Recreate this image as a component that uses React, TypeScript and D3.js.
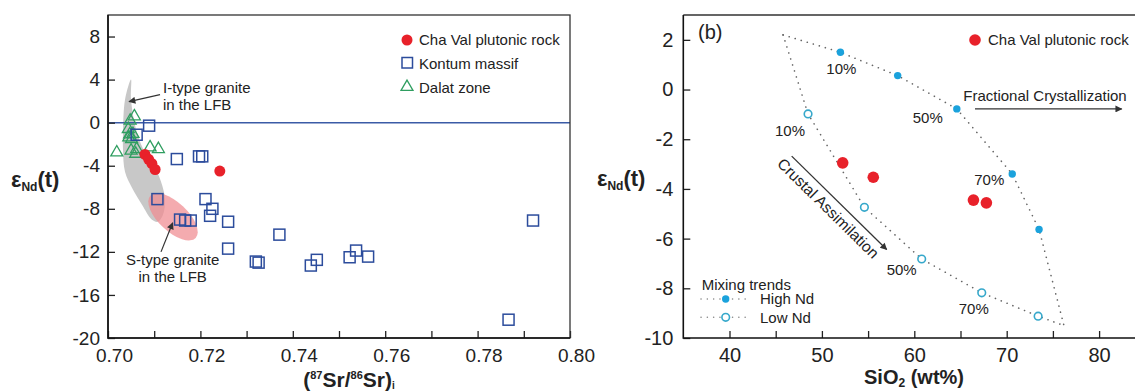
import * as d3 from 'd3';
import { useEffect, useRef } from 'react';

const FONT = 'Liberation Sans, Arial, Helvetica, sans-serif';
const RED = '#e8212a';
const SQUARE_BLUE = '#2c4c9c';
const TRI_GREEN = '#2f9e60';
const HIGH_ND = '#1ba2dc';
const LOW_ND = '#36a8cb';
const INK = '#222';

// ---- panel (a): eNd(t) vs (87Sr/86Sr)i ----
const chaValSr = [0.7080, 0.7088, 0.7095, 0.7102, 0.7242];
const chaValNd = [-2.95, -3.4, -3.8, -4.35, -4.5];

const kontumSr = [0.7089, 0.7062, 0.7149, 0.7197, 0.7204, 0.7107, 0.7156, 0.7167, 0.7179, 0.7211, 0.7226, 0.7221,
    0.7260, 0.7260, 0.7371, 0.7320, 0.7326, 0.7439, 0.7452, 0.7523, 0.7537, 0.7563, 0.7867, 0.7920];
const kontumNd = [-0.28, -1.12, -3.38, -3.13, -3.13, -7.1, -9.0, -9.09, -9.09, -7.1, -8.0, -8.65,
    -9.2, -11.7, -10.4, -12.9, -13.0, -13.27, -12.74, -12.5, -11.88, -12.44, -18.3, -9.09];

const dalatSr = [0.7048, 0.7057, 0.7044, 0.7054, 0.7045, 0.7051, 0.7019, 0.7050, 0.7062, 0.7060, 0.7091, 0.7109, 0.7047];
const dalatNd = [0.28, 0.68, -0.5, -0.95, -1.27, -1.43, -2.67, -2.5, -2.36, -2.8, -2.2, -2.36, -1.0];

// outline of the I-type granite field (LFB)
const iTypeSr = [0.70498, 0.70498, 0.70628, 0.70823, 0.71039, 0.71169, 0.71234, 0.71190, 0.71082,
    0.70952, 0.70736, 0.70519, 0.70368, 0.70325, 0.70325, 0.70368, 0.70390];
const iTypeNd = [4.0, 2.14, -0.93, -2.98, -4.37, -5.77, -7.16, -8.56, -9.21,
    -9.02, -7.63, -6.05, -4.56, -2.51, -0.93, 2.14, 4.0];
// S-type granite field centre
const sTypeCenter = [0.71407, -8.74];

const xTicksA = d3.range(70, 81).map((v) => v / 100);
const yTicksA = [-20, -16, -12, -8, -4, 0, 4, 8];
const legendA = ['Cha Val plutonic rock', 'Kontum massif', 'Dalat zone'];

// ---- panel (b): eNd(t) vs SiO2 ----
const chaValSiO2 = [52.25, 55.56, 66.4, 67.8];
const chaValNdB = [-2.95, -3.53, -4.45, -4.56];

const highNdSiO2 = [52.0, 58.2, 64.6, 70.6, 73.5];
const highNdEps = [1.5, 0.56, -0.78, -3.4, -5.63];
const lowNdSiO2 = [48.5, 54.6, 60.8, 67.3, 73.4];
const lowNdEps = [-0.98, -4.74, -6.82, -8.18, -9.12];
const mixStart = [45.8, 2.2];
const mixEnd = [76.2, -9.5];
const pctLabels = ['10%', '50%', '70%'];
const pctIndex = [0, 2, 3];

const xTicksB = d3.range(40, 81, 5);
const yTicksB = [-10, -8, -6, -4, -2, 0, 2];

export default function App() {
    const ref = useRef<any>(null);

    useEffect(() => {
        const svg = d3.select(ref.current);
        svg.selectAll('*').remove();

        const defs = svg.append('defs');
        defs.append('marker')
            .attr('id', 'arrow')
            .attr('viewBox', '0 0 10 10')
            .attr('refX', 9).attr('refY', 5)
            .attr('markerWidth', 9).attr('markerHeight', 7)
            .attr('markerUnits', 'userSpaceOnUse')
            .attr('orient', 'auto')
            .append('path').attr('d', 'M0,0 L10,5 L0,10 z').attr('fill', '#333');

        const styleAxis = (g: any, size: number) => {
            g.select('.domain').remove();
            g.selectAll('line').attr('stroke', INK).attr('stroke-width', 1.3);
            g.selectAll('text').attr('font-size', size).attr('font-family', FONT).attr('fill', INK);
        };
        // plain hyphen for negatives, like the original figure
        const plain = (d: any) => String(d);

        //---------------- panel (a)
        const xA = d3.scaleLinear().domain([0.70, 0.80]).range([108, 570]);
        const yA = d3.scaleLinear().domain([-20, 10]).range([338, 15]);
        const a = svg.append('g');

        // I-type field
        const blob = d3.line<number>()
            .x((_, i) => xA(iTypeSr[i]))
            .y((_, i) => yA(iTypeNd[i]))
            .curve(d3.curveCatmullRomClosed);
        a.append('path').attr('d', blob(iTypeSr.slice(0, -1)) as string).attr('fill', '#c8c8c8');

        // S-type field
        a.append('ellipse')
            .attr('cx', 0).attr('cy', 0).attr('rx', 31).attr('ry', 14.5)
            .attr('transform', `translate(${xA(sTypeCenter[0])},${yA(sTypeCenter[1])}) rotate(43)`)
            .attr('fill', '#f08a90').attr('opacity', 0.72);

        // zero line
        a.append('line')
            .attr('x1', xA(0.70)).attr('x2', xA(0.80))
            .attr('y1', yA(0)).attr('y2', yA(0))
            .attr('stroke', '#3b5ba6').attr('stroke-width', 1.5);

        // axes
        const axA = a.append('g').attr('transform', `translate(0,${yA(-20)})`)
            .call(d3.axisBottom(xA).tickValues(xTicksA).tickSize(-7).tickPadding(11)
                .tickFormat((d: any) => (Math.round(d * 100) % 2 === 0 ? d3.format('.2f')(d) : '')));
        styleAxis(axA, 19);
        axA.selectAll('text').attr('dx', 6);
        const ayA = a.append('g').attr('transform', `translate(${xA(0.70)},0)`)
            .call(d3.axisLeft(yA).tickValues(yTicksA).tickSize(-7).tickPadding(8).tickFormat(plain));
        styleAxis(ayA, 19);

        // frame
        a.append('rect')
            .attr('x', xA(0.70)).attr('y', yA(10))
            .attr('width', xA(0.80) - xA(0.70)).attr('height', yA(-20) - yA(10))
            .attr('fill', 'none').attr('stroke', '#333').attr('stroke-width', 1.3);
        a.append('path')
            .attr('d', `M${xA(0.70)},${yA(10)} V${yA(-20)} H${xA(0.80)}`)
            .attr('fill', 'none').attr('stroke', '#111').attr('stroke-width', 1.6);

        // annotations
        const ann = a.append('g').attr('font-family', FONT).attr('font-size', 15).attr('fill', INK);
        ann.append('text').attr('x', xA(0.7119)).attr('y', yA(2.79)).text('I-type granite');
        ann.append('text').attr('x', xA(0.7119)).attr('y', yA(1.21)).text('in the LFB');
        a.append('line')
            .attr('x1', xA(0.71126)).attr('y1', yA(2.6)).attr('x2', xA(0.70455)).attr('y2', yA(1.95))
            .attr('stroke', '#333').attr('stroke-width', 1.2).attr('marker-end', 'url(#arrow)');
        ann.append('text').attr('x', xA(0.7140)).attr('y', yA(-13.21)).attr('text-anchor', 'middle').text('S-type granite');
        ann.append('text').attr('x', xA(0.7140)).attr('y', yA(-14.76)).attr('text-anchor', 'middle').text('in the LFB');
        a.append('line')
            .attr('x1', xA(0.71147)).attr('y1', yA(-12.0)).attr('x2', xA(0.7140)).attr('y2', yA(-9.3))
            .attr('stroke', '#333').attr('stroke-width', 1.2).attr('marker-end', 'url(#arrow)');

        // data
        const tri = d3.symbol().type(d3.symbolTriangle).size(62);
        a.append('g').selectAll('path').data(dalatSr).join('path')
            .attr('d', tri as any)
            .attr('transform', (d, i) => `translate(${xA(d)},${yA(dalatNd[i]) + 1})`)
            .attr('fill', 'none').attr('stroke', TRI_GREEN).attr('stroke-width', 1.3);
        a.append('g').selectAll('rect').data(kontumSr).join('rect')
            .attr('x', (d) => xA(d) - 5.5).attr('y', (d, i) => yA(kontumNd[i]) - 5.5)
            .attr('width', 11).attr('height', 11)
            .attr('fill', 'none').attr('stroke', SQUARE_BLUE).attr('stroke-width', 1.5);
        a.append('g').selectAll('circle').data(chaValSr).join('circle')
            .attr('cx', (d) => xA(d)).attr('cy', (d, i) => yA(chaValNd[i]))
            .attr('r', 5.5).attr('fill', RED);

        // legend
        const lg = a.append('g').attr('font-family', FONT).attr('font-size', 15).attr('fill', INK);
        lg.append('circle').attr('cx', 407).attr('cy', 40).attr('r', 5.5).attr('fill', RED);
        lg.append('rect').attr('x', 402).attr('y', 57.5).attr('width', 10.5).attr('height', 10.5)
            .attr('fill', 'none').attr('stroke', SQUARE_BLUE).attr('stroke-width', 1.5);
        lg.append('path').attr('d', tri as any).attr('transform', 'translate(407,87)')
            .attr('fill', 'none').attr('stroke', TRI_GREEN).attr('stroke-width', 1.3);
        legendA.forEach((t, i) => {
            lg.append('text').attr('x', 419).attr('y', 45 + i * 23.8).text(t);
        });

        // axis titles
        const ylA = svg.append('text').attr('x', 11).attr('y', 187)
            .attr('font-family', FONT).attr('font-weight', 'bold').attr('font-size', 22).attr('fill', INK);
        ylA.append('tspan').text('ε');
        ylA.append('tspan').attr('font-size', 12).attr('dy', 4).text('Nd');
        ylA.append('tspan').attr('dy', -4).text('(t)');

        const xlA = svg.append('text').attr('x', 349).attr('y', 386.5).attr('text-anchor', 'middle')
            .attr('font-family', FONT).attr('font-weight', 'bold').attr('font-size', 21).attr('fill', INK);
        xlA.append('tspan').text('(');
        xlA.append('tspan').attr('font-size', 11).attr('dy', -8).text('87');
        xlA.append('tspan').attr('dy', 8).text('Sr/');
        xlA.append('tspan').attr('font-size', 11).attr('dy', -8).text('86');
        xlA.append('tspan').attr('dy', 8).text('Sr)');
        xlA.append('tspan').attr('font-size', 10).attr('dy', 2).text('i');

        //---------------- panel (b)
        const xB = d3.scaleLinear().domain([35, 85]).range([683.3, 1145.3]);
        const yB = d3.scaleLinear().domain([-10, 3]).range([338, 15]);
        const b = svg.append('g');

        const axB = b.append('g').attr('transform', `translate(0,${yB(-10)})`)
            .call(d3.axisBottom(xB).tickValues(xTicksB).tickSize(-7).tickPadding(10)
                .tickFormat((d: any) => (d % 10 === 0 ? String(d) : '')));
        styleAxis(axB, 20);
        const ayB = b.append('g').attr('transform', `translate(${xB(35)},0)`)
            .call(d3.axisLeft(yB).tickValues(yTicksB).tickSize(-7).tickPadding(10).tickFormat(plain));
        styleAxis(ayB, 20);

        b.append('path')
            .attr('d', `M${xB(35)},${yB(3)} H${xB(85)} V${yB(-10)}`)
            .attr('fill', 'none').attr('stroke', '#333').attr('stroke-width', 1.3);
        b.append('path')
            .attr('d', `M${xB(35)},${yB(3)} V${yB(-10)} H${xB(85)}`)
            .attr('fill', 'none').attr('stroke', '#111').attr('stroke-width', 1.6);

        b.append('text').attr('x', 698).attr('y', 39)
            .attr('font-family', FONT).attr('font-size', 20).attr('fill', INK).text('(b)');

        // mixing trends
        const trend = d3.line<number[]>().x((p) => xB(p[0])).y((p) => yB(p[1]));
        const highPts = [mixStart, ...highNdSiO2.map((v, i) => [v, highNdEps[i]]), mixEnd];
        const lowPts = [mixStart, ...lowNdSiO2.map((v, i) => [v, lowNdEps[i]]), mixEnd];
        [highPts, lowPts].forEach((pts) => {
            b.append('path').attr('d', trend(pts) as string)
                .attr('fill', 'none').attr('stroke', '#666').attr('stroke-width', 1.6)
                .attr('stroke-dasharray', '0.1 6.2').attr('stroke-linecap', 'round');
        });

        // arrows + labels
        const fc = b.append('g').attr('font-family', FONT).attr('font-size', 15).attr('fill', INK);
        fc.append('text').attr('x', xB(65.3)).attr('y', yB(-0.47)).text('Fractional Crystallization');
        b.append('line')
            .attr('x1', xB(66.57)).attr('x2', xB(82.45)).attr('y1', yB(-0.78)).attr('y2', yB(-0.78))
            .attr('stroke', '#333').attr('stroke-width', 1.3).attr('marker-end', 'url(#arrow)');

        const c1 = [xB(46.73), yB(-2.68)];
        const c2 = [xB(57.01), yB(-6.44)];
        const ang = (Math.atan2(c2[1] - c1[1], c2[0] - c1[0]) * 180) / Math.PI;
        b.append('line')
            .attr('x1', c1[0]).attr('y1', c1[1]).attr('x2', c2[0]).attr('y2', c2[1])
            .attr('stroke', '#333').attr('stroke-width', 1.3).attr('marker-end', 'url(#arrow)');
        b.append('text')
            .attr('transform', `translate(${(c1[0] + c2[0]) / 2},${(c1[1] + c2[1]) / 2}) rotate(${ang})`)
            .attr('x', -4).attr('y', 17).attr('text-anchor', 'middle')
            .attr('font-family', FONT).attr('font-size', 15.5).attr('fill', INK)
            .text('Crustal Assimilation');

        // percent labels
        const hiOff = [[1, 22], [-29, 14], [-23, 11]];
        const loOff = [[-18, 22], [-20, 16], [-8, 21]];
        pctIndex.forEach((k, j) => {
            fc.append('text').attr('text-anchor', 'middle')
                .attr('x', xB(highNdSiO2[k]) + hiOff[j][0]).attr('y', yB(highNdEps[k]) + hiOff[j][1])
                .text(pctLabels[j]);
            fc.append('text').attr('text-anchor', 'middle')
                .attr('x', xB(lowNdSiO2[k]) + loOff[j][0]).attr('y', yB(lowNdEps[k]) + loOff[j][1])
                .text(pctLabels[j]);
        });

        // markers
        b.append('g').selectAll('circle').data(highNdSiO2).join('circle')
            .attr('cx', (d) => xB(d)).attr('cy', (d, i) => yB(highNdEps[i]))
            .attr('r', 3.7).attr('fill', HIGH_ND);
        b.append('g').selectAll('circle').data(lowNdSiO2).join('circle')
            .attr('cx', (d) => xB(d)).attr('cy', (d, i) => yB(lowNdEps[i]))
            .attr('r', 3.8).attr('fill', '#fff').attr('stroke', LOW_ND).attr('stroke-width', 1.6);
        b.append('g').selectAll('circle').data(chaValSiO2).join('circle')
            .attr('cx', (d) => xB(d)).attr('cy', (d, i) => yB(chaValNdB[i]))
            .attr('r', 5.8).attr('fill', RED);

        // legends
        const lb = b.append('g').attr('font-family', FONT).attr('font-size', 15).attr('fill', INK);
        lb.append('circle').attr('cx', 975).attr('cy', 40).attr('r', 5.8).attr('fill', RED);
        lb.append('text').attr('x', 988).attr('y', 45).text(legendA[0]);

        lb.append('text').attr('x', 701.7).attr('y', 290).text('Mixing trends');
        [299, 317.3].forEach((yy, i) => {
            lb.append('line').attr('x1', 701).attr('x2', 751).attr('y1', yy).attr('y2', yy)
                .attr('stroke', '#888').attr('stroke-width', 1.5)
                .attr('stroke-dasharray', '0.1 6.2').attr('stroke-linecap', 'round');
            const c = lb.append('circle').attr('cx', 725.7).attr('cy', yy);
            if (i === 0) c.attr('r', 3.7).attr('fill', HIGH_ND);
            else c.attr('r', 3.8).attr('fill', '#fff').attr('stroke', LOW_ND).attr('stroke-width', 1.6);
            lb.append('text').attr('x', 760).attr('y', yy + 5.3).text(i === 0 ? 'High Nd' : 'Low Nd');
        });

        // axis titles
        const ylB = svg.append('text').attr('x', 597).attr('y', 186)
            .attr('font-family', FONT).attr('font-weight', 'bold').attr('font-size', 22).attr('fill', INK);
        ylB.append('tspan').text('ε');
        ylB.append('tspan').attr('font-size', 12).attr('dy', 4).text('Nd');
        ylB.append('tspan').attr('dy', -4).text('(t)');

        const xlB = svg.append('text').attr('x', 914).attr('y', 384).attr('text-anchor', 'middle')
            .attr('font-family', FONT).attr('font-weight', 'bold').attr('font-size', 20).attr('fill', INK);
        xlB.append('tspan').text('SiO');
        xlB.append('tspan').attr('font-size', 12).attr('dy', 3).text('2');
        xlB.append('tspan').attr('dy', -3).text(' (wt%)');
    });

    return (
        <svg
            ref={ref}
            width={1135}
            height={391}
            style={{ position: 'absolute', left: 0, top: 0, background: '#fff' }}
        ></svg>
    );
}
